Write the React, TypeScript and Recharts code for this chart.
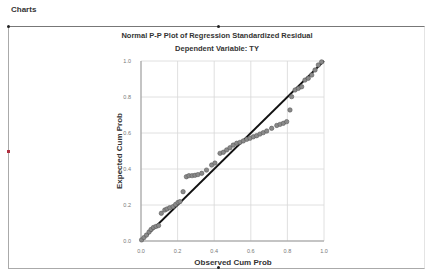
import { ScatterChart, Scatter, XAxis, YAxis, CartesianGrid, ReferenceLine } from "recharts";

// observed cumulative probability (x) vs expected cumulative probability (y)
const observed = [
  0.003, 0.016, 0.03, 0.044, 0.055, 0.068, 0.082, 0.096, 0.111, 0.13,
  0.142, 0.157, 0.175, 0.189, 0.202, 0.213, 0.23, 0.248, 0.262, 0.279,
  0.295, 0.311, 0.332, 0.358, 0.386, 0.404, 0.432, 0.45, 0.468, 0.486,
  0.504, 0.523, 0.541, 0.559, 0.578, 0.596, 0.614, 0.632, 0.65, 0.668,
  0.687, 0.714, 0.742, 0.76, 0.778, 0.796, 0.814, 0.823, 0.842, 0.86,
  0.878, 0.896, 0.914, 0.933, 0.951, 0.969, 0.987,
];
const expected = [
  0.006, 0.019, 0.033, 0.05, 0.064, 0.075, 0.081, 0.086, 0.154, 0.172,
  0.178, 0.185, 0.191, 0.203, 0.214, 0.219, 0.274, 0.357, 0.363, 0.363,
  0.365, 0.369, 0.376, 0.394, 0.422, 0.433, 0.487, 0.493, 0.506, 0.518,
  0.533, 0.543, 0.548, 0.556, 0.565, 0.571, 0.579, 0.585, 0.594, 0.602,
  0.611, 0.626, 0.642, 0.648, 0.654, 0.663, 0.728, 0.802, 0.839, 0.848,
  0.857, 0.894, 0.904, 0.922, 0.95, 0.978, 0.995,
];
const ticks = [0, 0.2, 0.4, 0.6, 0.8, 1.0];

const points = observed.map((x, i) => ({ x, y: expected[i] }));

const font = "'Liberation Sans', Arial, sans-serif";
const tickStyle = { fill: "#777", fontSize: 5.5, fontFamily: font };

function Dot(props: any) {
  const { cx, cy } = props;
  return <circle cx={cx} cy={cy} r={2.2} fill="#8a8a8a" stroke="#5a5a5a" strokeWidth={0.6} />;
}

export default function App() {
  return (
    <div style={{ position: "absolute", left: 0, top: 0, width: 425, height: 274, background: "#fff", fontFamily: font, overflow: "hidden" }}>
      <div style={{ position: "absolute", left: 11, top: 5, fontSize: 8, fontWeight: "bold", color: "#333" }}>Charts</div>

      {/* outer frame */}
      <div style={{ position: "absolute", left: 8, top: 26, width: 415, height: 241, borderTop: "1px solid #777", borderLeft: "1px solid #aaa", borderBottom: "1px solid #aaa", borderRight: "1px solid #e4e4e4" }} />
      <div style={{ position: "absolute", left: 7, top: 25, width: 3, height: 3, borderRadius: 2, background: "#222" }} />
      <div style={{ position: "absolute", left: 217, top: 25, width: 3, height: 3, borderRadius: 2, background: "#222" }} />
      <div style={{ position: "absolute", left: 217, top: 266, width: 3, height: 3, borderRadius: 2, background: "#222" }} />
      <div style={{ position: "absolute", left: 7, top: 150, width: 3, height: 3, background: "#b03040" }} />

      <div style={{ position: "absolute", left: 0, width: 434, top: 31, textAlign: "center", fontSize: 7.5, fontWeight: "bold", color: "#333" }}>
        Normal P-P Plot of Regression Standardized Residual
      </div>
      <div style={{ position: "absolute", left: 0, width: 434, top: 44, textAlign: "center", fontSize: 7.5, fontWeight: "bold", color: "#333" }}>
        Dependent Variable: TY
      </div>

      <div style={{ position: "absolute", left: 119, top: 151, transform: "translate(-50%, -50%) rotate(-90deg)", whiteSpace: "nowrap", fontSize: 8, fontWeight: "bold", color: "#333" }}>
        Expected Cum Prob
      </div>
      <div style={{ position: "absolute", left: 233, top: 262, transform: "translate(-50%, -50%)", whiteSpace: "nowrap", fontSize: 8, fontWeight: "bold", color: "#333" }}>
        Observed Cum Prob
      </div>

      <div style={{ position: "absolute", left: 0, top: 0 }}>
        <ScatterChart width={425} height={274} margin={{ top: 61, right: 101, bottom: 13, left: 111 }}>
          <CartesianGrid stroke="#d8d8d8" strokeWidth={0.8} horizontalValues={ticks} verticalValues={ticks} />
          <XAxis
            type="number"
            dataKey="x"
            domain={[0, 1]}
            ticks={ticks}
            tickFormatter={(v: number) => v.toFixed(1)}
            tick={tickStyle}
            tickLine={false}
            axisLine={{ stroke: "#999" }}
            tickMargin={2}
            height={20}
          />
          <YAxis
            type="number"
            dataKey="y"
            domain={[0, 1]}
            ticks={ticks}
            tickFormatter={(v: number) => v.toFixed(1)}
            tick={tickStyle}
            tickLine={false}
            axisLine={{ stroke: "#999" }}
            tickMargin={4}
            width={30}
          />
          <ReferenceLine segment={[{ x: 0, y: 0 }, { x: 1, y: 1 }]} stroke="#111" strokeWidth={1.8} />
          <Scatter data={points} shape={<Dot />} isAnimationActive={false} />
        </ScatterChart>
      </div>
    </div>
  );
}
